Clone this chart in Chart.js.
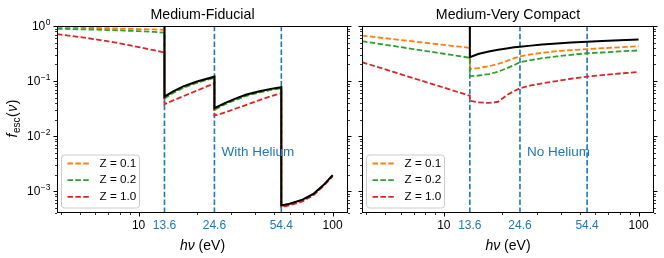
<!DOCTYPE html>
<html>
<head>
<meta charset="utf-8">
<script src="https://cdn.jsdelivr.net/npm/chart.js@4.4.1/dist/chart.umd.min.js"></script>
<style>
    html, body { margin: 0; padding: 0; background: #fff; }
    #wrap { position: relative; width: 664px; height: 258px; }
    canvas { position: absolute; top: 0; }
    #fid { left: 0; }
    #cmp { left: 356px; }
</style>
</head>
<body>
<div id="wrap">
    <canvas id="fid" width="356" height="258"></canvas>
    <canvas id="cmp" width="308" height="258"></canvas>
</div>
<script>
// Medium-Fiducial (with helium): photon energy (eV) and escape fraction
const fidEnergy = [3.8, 4.5, 5.5, 7, 8.5, 10, 12, 13.6, 13.6, 15, 17, 20, 22.5, 24.6,
    24.6, 28, 32, 36, 42, 48, 54.4, 54.4, 60, 70, 80, 90, 100];
const fidTotal = [1, 1, 1, 1, 1, 1, 1, 1, 0.052, 0.064, 0.080, 0.098, 0.110, 0.120,
    0.032, 0.040, 0.049, 0.057, 0.065, 0.072, 0.077, 5.5e-4, 5.9e-4, 7.0e-4, 9.0e-4, 1.3e-3, 1.95e-3];
const fidZ01 = [0.94, 0.935, 0.925, 0.91, 0.895, 0.88, 0.865, 0.855, 0.050, 0.062, 0.077, 0.095, 0.107, 0.117,
    0.031, 0.039, 0.047, 0.055, 0.063, 0.070, 0.075, 5.4e-4, 5.8e-4, 6.9e-4, 8.9e-4, 1.3e-3, 1.93e-3];
const fidZ02 = [0.89, 0.88, 0.865, 0.845, 0.825, 0.805, 0.78, 0.76, 0.048, 0.060, 0.075, 0.093, 0.105, 0.114,
    0.030, 0.038, 0.046, 0.054, 0.062, 0.069, 0.074, 5.3e-4, 5.7e-4, 6.8e-4, 8.8e-4, 1.28e-3, 1.9e-3];
const fidZ10 = [0.71, 0.66, 0.60, 0.525, 0.465, 0.415, 0.363, 0.33, 0.038, 0.044, 0.053, 0.067, 0.080, 0.091,
    0.0235, 0.027, 0.032, 0.037, 0.045, 0.053, 0.060, 5.1e-4, 5.5e-4, 6.5e-4, 8.5e-4, 1.25e-3, 1.87e-3];

// Medium-Very Compact (no helium)
const cmpEnergy = [3.8, 4.5, 5.5, 7, 8.5, 10, 12, 13.6, 13.6, 15, 17, 19, 21, 23, 24.6,
    28, 32, 38, 45, 54.4, 65, 80, 100];
const cmpTotal = [1, 1, 1, 1, 1, 1, 1, 1, 0.27, 0.31, 0.345, 0.37, 0.39, 0.41, 0.42,
    0.44, 0.46, 0.48, 0.50, 0.52, 0.535, 0.55, 0.57];
const cmpZ01 = [0.67, 0.626, 0.577, 0.523, 0.484, 0.453, 0.421, 0.40, 0.165, 0.172, 0.185, 0.205, 0.23, 0.26, 0.28,
    0.305, 0.325, 0.35, 0.365, 0.38, 0.395, 0.41, 0.43];
const cmpZ02 = [0.53, 0.483, 0.434, 0.38, 0.342, 0.313, 0.284, 0.265, 0.123, 0.126, 0.133, 0.148, 0.17, 0.195, 0.22,
    0.24, 0.26, 0.28, 0.30, 0.32, 0.33, 0.345, 0.36];
const cmpZ10 = [0.22, 0.183, 0.147, 0.112, 0.091, 0.076, 0.062, 0.054, 0.044, 0.041, 0.040, 0.042, 0.055, 0.066, 0.074,
    0.083, 0.091, 0.10, 0.11, 0.12, 0.128, 0.137, 0.146];

// ionisation edges (eV) and axis ticks
const edges = [13.6, 24.6, 54.4];
const xTickValues = [4, 5, 6, 7, 8, 9, 10, 13.6, 20, 24.6, 30, 40, 50, 54.4, 60, 70, 80, 90, 100];
const xLabelled = [10, 13.6, 24.6, 54.4, 100];
const xMajor = [10, 100];
const xMinor = [4, 5, 6, 7, 8, 9, 20, 30, 40, 50, 60, 70, 80, 90];
const yDecades = [1e-3, 1e-2, 1e-1, 1];
const yExponents = ['\u22123', '\u22122', '\u22121', '0'];
const yMinor = [4e-4, 5e-4, 6e-4, 7e-4, 8e-4, 9e-4, 2e-3, 3e-3, 4e-3, 5e-3, 6e-3, 7e-3, 8e-3, 9e-3,
    2e-2, 3e-2, 4e-2, 5e-2, 6e-2, 7e-2, 8e-2, 9e-2, 0.2, 0.3, 0.4, 0.5, 0.6, 0.7, 0.8, 0.9];

const X_MIN = 3.8, X_MAX = 120, Y_MIN = 4e-4, Y_MAX = 1;
const FONT = '"Liberation Sans", Arial, Helvetica, sans-serif';
const BLUE = '#1f77b4', ORANGE = '#ff7f0e', GREEN = '#2ca02c', RED = '#d62728';
const DASH = [5.5, 2.4];

function toPoints(xs, ys) {
    return xs.map((x, i) => ({ x: x, y: ys[i] }));
}

// frame, tick marks, exponent labels, axis titles, legend and notes
const panelDecor = {
    id: 'panelDecor',
    afterDatasetsDraw(chart, args, o) {
        const { ctx, chartArea: a } = chart;
        const xs = chart.scales.x, ys = chart.scales.y;
        ctx.save();
        ctx.strokeStyle = '#000';
        ctx.fillStyle = '#000';

        // note next to the He I edge
        ctx.font = `13.5px ${FONT}`;
        ctx.fillStyle = BLUE;
        ctx.textBaseline = 'middle';
        ctx.textAlign = 'left';
        ctx.fillText(o.note, xs.getPixelForValue(24.6) + 7, 152.5);

        // legend
        const items = chart.data.datasets.filter(d => d.inLegend)
            .sort((p, q) => p.label.localeCompare(q.label));
        const bw = 78, bh = 53, bx = a.left + 4.5, by = a.bottom - 5 - bh;
        ctx.beginPath();
        ctx.roundRect(bx, by, bw, bh, 3);
        ctx.fillStyle = 'rgba(255,255,255,0.8)';
        ctx.fill();
        ctx.strokeStyle = '#cccccc';
        ctx.lineWidth = 1;
        ctx.stroke();
        ctx.font = `11.7px ${FONT}`;
        items.forEach((d, i) => {
            const ly = by + 8.5 + i * 16.7;
            ctx.strokeStyle = d.borderColor;
            ctx.lineWidth = d.borderWidth;
            ctx.setLineDash(d.borderDash);
            ctx.beginPath();
            ctx.moveTo(bx + 6, ly);
            ctx.lineTo(bx + 29, ly);
            ctx.stroke();
            ctx.setLineDash([]);
            ctx.fillStyle = '#000';
            ctx.fillText(d.label, bx + 38, ly);
        });

        // spines
        ctx.strokeStyle = '#000';
        ctx.lineWidth = 1;
        ctx.strokeRect(a.left + 0.5, a.top + 0.5, a.right - a.left - 1, a.bottom - a.top - 1);

        // tick marks, all pointing outwards
        const line = (x1, y1, x2, y2, w) => {
            ctx.lineWidth = w;
            ctx.beginPath();
            ctx.moveTo(x1, y1);
            ctx.lineTo(x2, y2);
            ctx.stroke();
        };
        xMajor.forEach(v => {
            const px = Math.round(xs.getPixelForValue(v)) + 0.5;
            line(px, a.bottom, px, a.bottom + 3.5, 1);
        });
        xMinor.forEach(v => {
            const px = Math.round(xs.getPixelForValue(v)) + 0.5;
            line(px, a.bottom, px, a.bottom + 2, 0.8);
        });
        yDecades.forEach(v => {
            const py = Math.round(ys.getPixelForValue(v)) + 0.5;
            line(a.left, py, a.left - 3.5, py, 1);
            line(a.right, py, a.right + 3.5, py, 1);
        });
        yMinor.forEach(v => {
            const py = Math.round(ys.getPixelForValue(v)) + 0.5;
            line(a.left, py, a.left - 2, py, 0.8);
            line(a.right, py, a.right + 2, py, 0.8);
        });

        // 10^n labels on the y axis
        ctx.fillStyle = '#000';
        ctx.textBaseline = 'alphabetic';
        ctx.textAlign = 'left';
        if (o.yLabels) {
            yDecades.forEach((v, i) => {
                const py = ys.getPixelForValue(v);
                ctx.font = `8.5px ${FONT}`;
                const sw = ctx.measureText(yExponents[i]).width;
                ctx.font = `12px ${FONT}`;
                const tw = ctx.measureText('10').width;
                const x0 = a.left - 7 - sw - tw;
                ctx.fillText('10', x0, py + 4.3);
                ctx.font = `8.5px ${FONT}`;
                ctx.fillText(yExponents[i], x0 + tw + 0.5, py - 1.5);
            });

            // f_esc(nu)
            ctx.save();
            ctx.translate(12, (a.top + a.bottom) / 2);
            ctx.rotate(-Math.PI / 2);
            const parts = [
                { t: 'f', f: `italic 14px ${FONT}`, dy: 0 },
                { t: 'esc', f: `10px ${FONT}`, dy: 3 },
                { t: '(', f: `14px ${FONT}`, dy: 0 },
                { t: '\u03bd', f: `italic 14px ${FONT}`, dy: 0 },
                { t: ')', f: `14px ${FONT}`, dy: 0 }
            ];
            let total = 0;
            parts.forEach(p => { ctx.font = p.f; p.w = ctx.measureText(p.t).width; total += p.w; });
            let cx = -total / 2;
            parts.forEach(p => { ctx.font = p.f; ctx.fillText(p.t, cx, 5 + p.dy); cx += p.w + 0.5; });
            ctx.restore();
        }

        // h nu (eV)
        const xt = [
            { t: 'h\u03bd', f: `italic 14px ${FONT}` },
            { t: ' (eV)', f: `14px ${FONT}` }
        ];
        let xw = 0;
        xt.forEach(p => { ctx.font = p.f; p.w = ctx.measureText(p.t).width; xw += p.w; });
        let xx = (a.left + a.right) / 2 - xw / 2;
        xt.forEach(p => { ctx.font = p.f; ctx.fillText(p.t, xx, 249.5); xx += p.w; });

        // panel title
        ctx.font = `14.2px ${FONT}`;
        ctx.textAlign = 'center';
        ctx.fillText(o.title, (a.left + a.right) / 2, 18.5);
        ctx.restore();
    }
};

function makePanel(canvasId, energy, total, z01, z02, z10, opts) {
    const ctx = document.getElementById(canvasId).getContext('2d');
    const edgeSets = edges.map(e => ({
        label: 'edge ' + e,
        data: [{ x: e, y: Y_MIN }, { x: e, y: Y_MAX }],
        borderColor: BLUE,
        borderWidth: 1.6,
        borderDash: DASH
    }));
    return new Chart(ctx, {
        type: 'line',
        data: {
            datasets: [
                { label: 'total', data: toPoints(energy, total), borderColor: '#000', borderWidth: 2, borderDash: [] },
                { label: 'Z = 1.0', data: toPoints(energy, z10), borderColor: RED, borderWidth: 1.8, borderDash: DASH, inLegend: true },
                { label: 'Z = 0.2', data: toPoints(energy, z02), borderColor: GREEN, borderWidth: 1.8, borderDash: DASH, inLegend: true },
                { label: 'Z = 0.1', data: toPoints(energy, z01), borderColor: ORANGE, borderWidth: 1.8, borderDash: DASH, inLegend: true }
            ].concat(edgeSets)
        },
        options: {
            responsive: false,
            animation: false,
            devicePixelRatio: 1,
            parsing: false,
            elements: {
                point: { radius: 0 },
                line: { tension: 0, fill: false }
            },
            layout: {
                padding: { top: 26, right: opts.padRight, left: 0, bottom: 0 }
            },
            plugins: {
                legend: { display: false },
                tooltip: { enabled: false },
                panelDecor: opts
            },
            scales: {
                x: {
                    type: 'logarithmic',
                    min: X_MIN,
                    max: X_MAX,
                    border: { display: false },
                    grid: { display: false, drawTicks: false },
                    ticks: {
                        autoSkip: false,
                        maxRotation: 0,
                        minRotation: 0,
                        padding: 5,
                        font: { family: FONT, size: 12 },
                        color: (c) => edges.includes(c.tick.value) ? BLUE : '#000',
                        callback: (v) => xLabelled.includes(v) ? String(v) : ''
                    },
                    afterBuildTicks: (s) => { s.ticks = xTickValues.map(v => ({ value: v })); },
                    afterFit: (s) => { s.height = 45; s.paddingLeft = 0; s.paddingRight = 0; }
                },
                y: {
                    type: 'logarithmic',
                    min: Y_MIN,
                    max: Y_MAX,
                    border: { display: false },
                    grid: { display: false, drawTicks: false },
                    ticks: { display: false },
                    afterFit: (s) => { s.width = opts.yWidth; s.paddingTop = 0; s.paddingBottom = 0; }
                }
            }
        },
        plugins: [panelDecor]
    });
}

makePanel('fid', fidEnergy, fidTotal, fidZ01, fidZ02, fidZ10, {
    title: 'Medium-Fiducial', note: 'With Helium', yLabels: true, yWidth: 57, padRight: 8
});
makePanel('cmp', cmpEnergy, cmpTotal, cmpZ01, cmpZ02, cmpZ10, {
    title: 'Medium-Very Compact', note: 'No Helium', yLabels: false, yWidth: 6, padRight: 10
});
</script>
</body>
</html>
